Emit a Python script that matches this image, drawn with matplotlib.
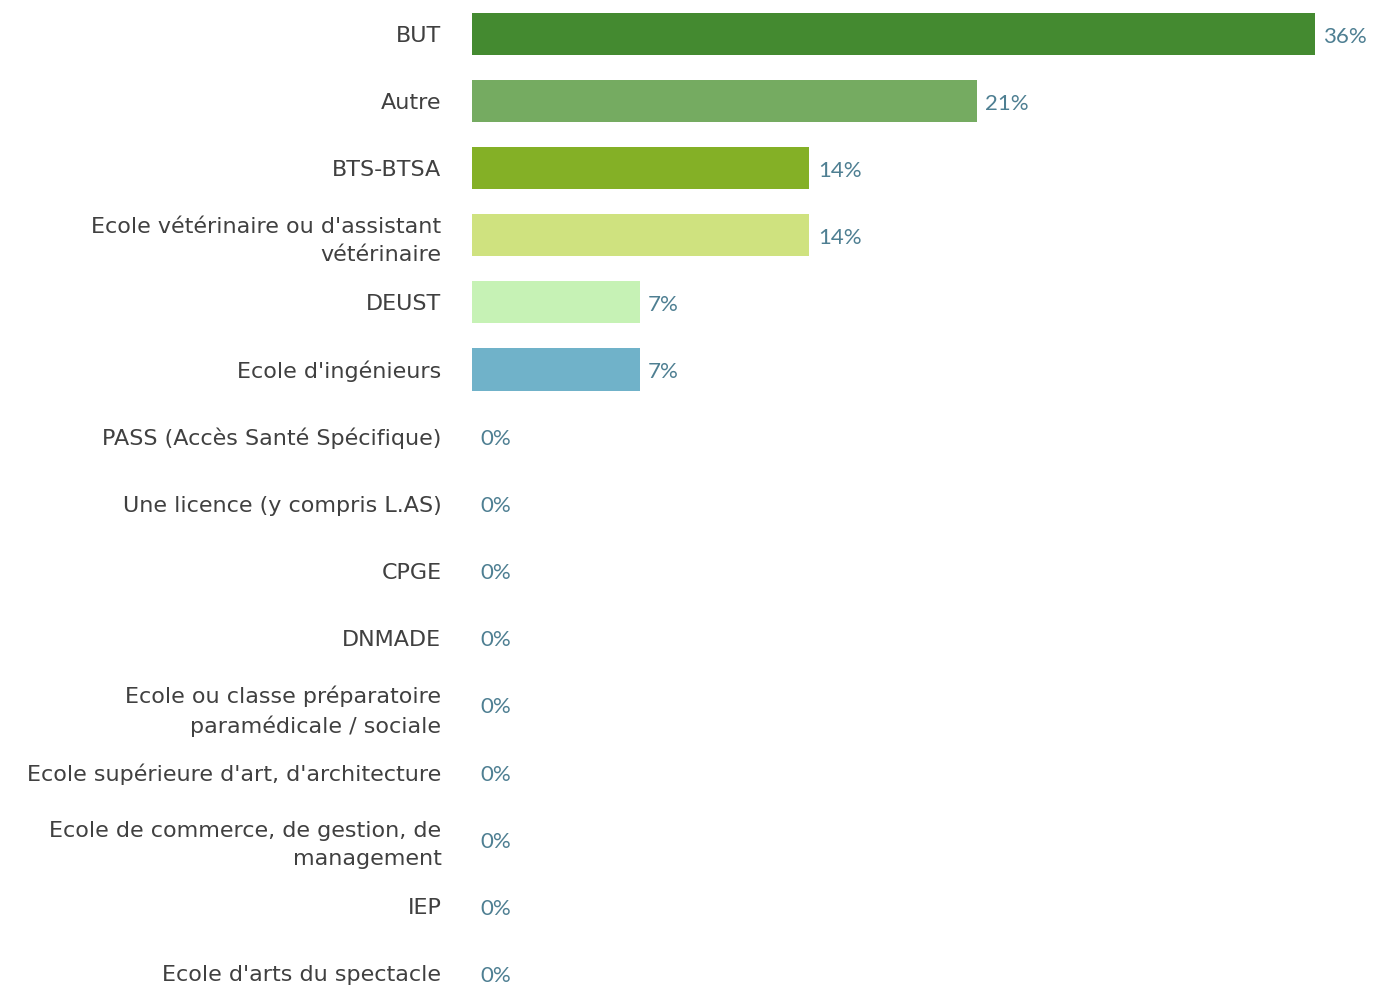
import matplotlib
matplotlib.use("Agg")
import matplotlib.pyplot as plt

# catégories et pourcentages (n = 14)
categories = [
    "BUT", "Autre", "BTS-BTSA", "Ecole vétérinaire ou d'assistant\nvétérinaire",
    "DEUST", "Ecole d'ingénieurs", "PASS (Accès Santé Spécifique)",
    "Une licence (y compris L.AS)", "CPGE", "DNMADE",
    "Ecole ou classe préparatoire\nparamédicale / sociale",
    "Ecole supérieure d'art, d'architecture",
    "Ecole de commerce, de gestion, de\nmanagement", "IEP",
    "Ecole d'arts du spectacle",
]
values = [35.7, 21.4, 14.3, 14.3, 7.1, 7.1, 0, 0, 0, 0, 0, 0, 0, 0, 0]
labels = ["36%", "21%", "14%", "14%", "7%", "7%"] + ["0%"] * 9
colors = ["#448a30", "#75ab61", "#84b026", "#cfe27f", "#c6f2b5", "#70b2c9"] + ["#70b2c9"] * 9

plt.rcParams['font.family'] = ['DejaVu Sans']

fig = plt.figure(figsize=(13.74, 9.86), dpi=100)
ax = fig.add_axes([472 / 1374, 0, 1 - 472 / 1374, 1])

y = list(range(len(categories)))
ax.barh(y, values, height=0.63, color=colors)
ax.set_xlim(0, 902 / 23.6)
ax.set_ylim(14 + 13 / 67, -34 / 67)

for yi, v, lab in zip(y, values, labels):
    ax.annotate(lab, (v, yi), xytext=(6, -2), textcoords="offset points",
                va="center", ha="left", fontsize=16, color="#4e7f92",
                family=['Lato', 'DejaVu Sans'])

ax.set_yticks(y)
ax.set_yticklabels(categories, fontsize=16, color="#404040", linespacing=1.5)
ax.tick_params(axis="y", length=0, pad=22)
ax.set_xticks([])
for s in ax.spines.values():
    s.set_visible(False)

fig.savefig("out.png", dpi=100)
